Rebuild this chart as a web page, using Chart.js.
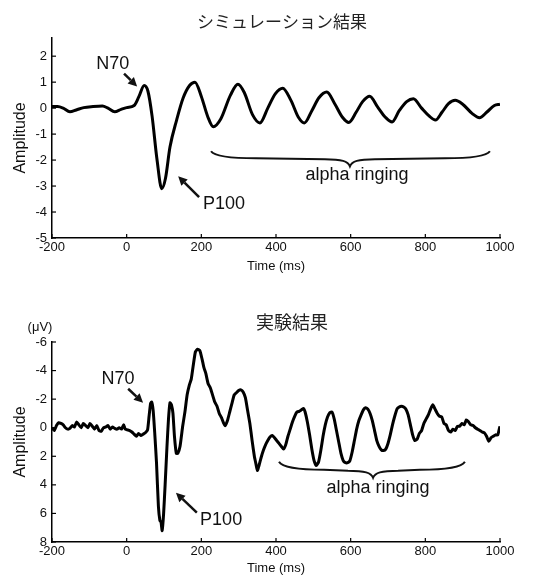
<!DOCTYPE html>
<html>
<head>
<meta charset="utf-8">
<script src="https://cdn.jsdelivr.net/npm/chart.js@4"></script>
<style>
  html, body { margin: 0; padding: 0; background: #fff; }
  #wrap { position: relative; width: 533px; height: 577px; }
  canvas { position: absolute; left: 0; }
  #top { top: 0; }
  #bottom { top: 290px; }
</style>
</head>
<body>
<div id="wrap">
  <canvas id="top" width="533" height="290"></canvas>
  <canvas id="bottom" width="533" height="287"></canvas>
</div>
<script>
// ---------- Data ----------
const xTicks = [-200, 0, 200, 400, 600, 800, 1000];
const simTicks = [-5, -4, -3, -2, -1, 0, 1, 2];
const expTicks = [-6, -4, -2, 0, 2, 4, 6, 8];

// simulation (top)
const simTime = [-200, -185, -170, -152, -135, -115, -90, -65, -50, -32, -15, 0, 20, 33, 47, 57, 68, 81, 94, 104,
  116, 134, 151, 169, 183, 200, 217, 232, 252, 278, 298, 315, 337, 357, 378, 398, 418, 440, 460, 476,
  496, 515, 536, 558, 578, 595, 615, 632, 651, 672, 693, 711, 730, 750, 768, 790, 810, 827, 845, 862,
  880, 900, 925, 945, 965, 985, 1000];
const simAmp = [0.06, 0.06, 0.0, -0.14, -0.07, 0.02, 0.06, 0.08, 0.0, -0.14, -0.05, 0.02, 0.1, 0.45, 0.87, 0.65, -0.3, -1.95, -3.1, -2.7,
  -1.5, -0.45, 0.38, 0.88, 1.0, 0.45, -0.32, -0.72, -0.42, 0.5, 0.92, 0.6, -0.25, -0.57, 0.0, 0.55, 0.77, 0.3, -0.35, -0.57,
  -0.1, 0.4, 0.62, 0.15, -0.35, -0.55, -0.15, 0.25, 0.46, 0.05, -0.35, -0.53, -0.1, 0.25, 0.36, 0.0, -0.3, -0.46, -0.15, 0.17,
  0.3, 0.15, -0.2, -0.37, -0.15, 0.1, 0.15];

// experiment (bottom), y axis reversed
const expTime = [-200, -194, -188, -182, -176, -170, -164, -158, -152, -146, -140, -134, -128, -122, -116, -110, -104, -98, -92, -86,
  -80, -74, -68, -62, -56, -50, -44, -38, -32, -26, -20, -14, -8, -4, 2, 8, 14, 20, 26, 32,
  38, 44, 50, 56, 60, 64, 67, 71, 75, 80, 85, 89, 92, 95, 99, 103, 108, 112, 116, 120,
  124, 128, 133, 137, 143, 150, 156, 162, 168, 173, 178, 184, 190, 196, 202, 207, 212, 218, 224, 230,
  236, 242, 248, 254, 260, 264, 270, 276, 282, 288, 294, 300, 306, 312, 318, 324, 330, 336, 342, 346,
  350, 355, 360, 366, 372, 378, 384, 390, 396, 402, 408, 414, 420, 426, 432, 438, 444, 450, 456, 462,
  468, 474, 478, 484, 490, 496, 502, 508, 514, 520, 526, 532, 538, 544, 550, 556, 562, 568, 574, 580,
  586, 592, 598, 604, 610, 616, 622, 628, 634, 640, 646, 652, 658, 664, 670, 676, 682, 688, 694, 700,
  706, 712, 718, 724, 730, 736, 742, 748, 754, 760, 766, 772, 778, 784, 790, 796, 802, 808, 814, 820,
  826, 832, 838, 844, 850, 856, 862, 868, 874, 880, 886, 892, 898, 904, 910, 916, 922, 928, 934, 940,
  946, 952, 958, 964, 970, 976, 982, 988, 994, 998, 1000];
const expAmp = [0.0, 0.2, -0.15, -0.35, -0.3, -0.2, 0.0, 0.1, 0.05, -0.15, -0.05, -0.4, -0.2, 0.0, -0.3, -0.15, 0.0, -0.3, -0.1, 0.1,
  -0.15, 0.2, 0.25, 0.0, -0.05, -0.15, 0.1, -0.05, 0.05, 0.1, 0.0, 0.1, -0.2, 0.1, 0.15, 0.2, 0.3, 0.45, 0.6, 0.4,
  0.55, 0.45, 0.35, 0.15, -0.8, -1.7, -1.8, -1.2, 0.3, 2.5, 5.5, 6.5, 6.6, 7.2, 6.0, 4.0, 1.3, -0.6, -1.75, -1.6,
  -1.0, 0.6, 1.8, 1.8, 1.3, -0.1, -1.1, -2.3, -3.0, -3.4, -4.3, -5.3, -5.5, -5.4, -4.8, -4.2, -3.8, -3.1, -2.8, -2.3,
  -1.8, -1.5, -1.0, -0.7, -0.3, -0.15, -0.5, -1.1, -1.7, -2.3, -2.45, -2.6, -2.65, -2.5, -2.1, -1.2, -0.3, 0.9, 2.0, 2.5,
  3.0, 2.6, 2.1, 1.6, 1.2, 0.9, 0.65, 0.55, 0.7, 0.9, 1.1, 1.3, 1.5, 1.2, 0.6, 0.1, -0.4, -0.8, -1.1, -1.15,
  -1.25, -1.35, -1.1, -0.4, 0.5, 1.5, 2.3, 2.65, 2.4, 1.6, 0.6, -0.2, -0.75, -1.05, -1.1, -0.6, 0.2, 1.0, 1.8, 2.3,
  2.45, 2.45, 2.3, 1.7, 0.9, 0.1, -0.5, -0.9, -1.25, -1.4, -1.3, -1.0, -0.5, 0.2, 0.9, 1.3, 1.55, 1.6, 1.5, 1.1,
  0.5, -0.2, -0.8, -1.3, -1.45, -1.5, -1.45, -1.3, -0.9, -0.2, 0.5, 0.9, 0.8, 0.4, 0.2, -0.3, -0.6, -0.9, -1.3, -1.6,
  -1.3, -1.0, -0.8, -0.75, -0.3, -0.2, 0.2, 0.3, 0.1, 0.2, -0.1, -0.1, -0.3, -0.2, -0.55, -0.4, -0.2, -0.15, 0.0, 0.1,
  0.2, 0.3, 0.35, 0.6, 0.95, 0.7, 0.6, 0.5, 0.5, 0.1, -0.1];

const FONT = '"Liberation Sans", Arial, sans-serif';
const CJK = '"Noto Sans CJK JP", "Noto Sans CJK SC", sans-serif';

// ---------- Helpers ----------
function arrow(ctx, x1, y1, x2, y2) {
    const a = Math.atan2(y2 - y1, x2 - x1);
    const L = 9, W = 4.5;
    const bx = x2 - L * Math.cos(a), by = y2 - L * Math.sin(a);
    ctx.beginPath();
    ctx.moveTo(x1, y1);
    ctx.lineTo(bx, by);
    ctx.stroke();
    ctx.beginPath();
    ctx.moveTo(x2, y2);
    ctx.lineTo(bx + W * Math.sin(a), by - W * Math.cos(a));
    ctx.lineTo(bx - W * Math.sin(a), by + W * Math.cos(a));
    ctx.closePath();
    ctx.fill();
}

function brace(ctx, x1, x2, xc, yEnd, yMid, yTip) {
    ctx.beginPath();
    ctx.moveTo(x1, yEnd);
    ctx.bezierCurveTo(x1 + 4, yMid - 1, x1 + 25, yMid, x1 + 45, yMid);
    ctx.lineTo(xc - 25, yMid + 1);
    ctx.bezierCurveTo(xc - 8, yMid + 1, xc - 2, yMid + 3, xc, yTip);
    ctx.bezierCurveTo(xc + 2, yMid + 3, xc + 8, yMid + 1, xc + 25, yMid + 1);
    ctx.lineTo(x2 - 45, yMid);
    ctx.bezierCurveTo(x2 - 25, yMid, x2 - 4, yMid - 1, x2, yEnd);
    ctx.stroke();
}

// ---------- Annotation plugin ----------
const notesPlugin = {
    id: 'notes',
    afterDraw(chart, args, o) {
        const { ctx, scales: { x, y } } = chart;
        const px = t => x.getPixelForValue(t);
        const py = v => y.getPixelForValue(v);
        ctx.save();

        // inward tick marks
        ctx.strokeStyle = '#000';
        ctx.lineWidth = 1.2;
        x.ticks.forEach(tk => {
            const X = px(tk.value);
            ctx.beginPath(); ctx.moveTo(X, x.top); ctx.lineTo(X, x.top - 4); ctx.stroke();
        });
        y.ticks.forEach(tk => {
            const Y = py(tk.value);
            ctx.beginPath(); ctx.moveTo(y.right, Y); ctx.lineTo(y.right + 4, Y); ctx.stroke();
        });

        // title
        ctx.fillStyle = '#222';
        ctx.textAlign = 'center';
        ctx.textBaseline = 'middle';
        ctx.font = o.titleSize + 'px ' + CJK;
        ctx.fillText(o.title, o.titleX, o.titleY);

        if (o.unit) {
            ctx.fillStyle = '#111';
            ctx.font = '13px ' + FONT;
            ctx.fillText(o.unit, 40, 37);
        }

        // labels
        ctx.fillStyle = '#111';
        ctx.textBaseline = 'alphabetic';
        ctx.font = '18px ' + FONT;
        o.labels.forEach(l => ctx.fillText(l.text, px(l.t), py(l.v)));

        // arrows
        ctx.strokeStyle = '#111';
        ctx.lineWidth = 2.5;
        o.arrows.forEach(a => arrow(ctx, px(a[0]), py(a[1]), px(a[2]), py(a[3])));

        // brace
        const b = o.brace;
        ctx.lineWidth = 2;
        brace(ctx, px(b.t1), px(b.t2), px(b.tc), py(b.vEnd), py(b.vMid), py(b.vTip));
        ctx.restore();
    }
};

// ---------- Chart factory ----------
function makeChart(id, times, amps, yMin, yMax, yTickVals, reverse, pad, xh, tension, notes) {
    const pts = times.map((t, i) => ({ x: t, y: amps[i] }));
    return new Chart(document.getElementById(id).getContext('2d'), {
        type: 'line',
        data: {
            datasets: [{
                data: pts,
                borderColor: '#000',
                borderWidth: 3,
                pointRadius: 0,
                fill: false,
                tension: tension,
                cubicInterpolationMode: tension ? 'default' : 'monotone'
            }]
        },
        options: {
            responsive: false,
            animation: false,
            devicePixelRatio: 1,
            layout: { padding: pad },
            plugins: { legend: { display: false }, tooltip: { enabled: false }, notes: notes },
            scales: {
                x: {
                    type: 'linear', min: -200, max: 1000,
                    afterBuildTicks: s => { s.ticks = xTicks.map(v => ({ value: v })); },
                    afterFit: s => { s.height = xh; },
                    grid: { display: false, drawTicks: false },
                    border: { display: true, color: '#000', width: 1.5 },
                    ticks: { color: '#111', font: { family: FONT, size: 13 }, padding: 2, maxRotation: 0, autoSkip: false,
                             callback: v => String(v) },
                    title: { display: true, text: 'Time (ms)', color: '#111', font: { family: FONT, size: 13 }, padding: 0 }
                },
                y: {
                    type: 'linear', min: yMin, max: yMax, reverse: reverse,
                    afterBuildTicks: s => { s.ticks = yTickVals.map(v => ({ value: v })); },
                    afterFit: s => { s.width = 52; },
                    grid: { display: false, drawTicks: false },
                    border: { display: true, color: '#000', width: 1.5 },
                    ticks: { color: '#111', font: { family: FONT, size: 13 }, padding: 5, autoSkip: false,
                             callback: v => String(v) },
                    title: { display: true, text: 'Amplitude', color: '#111', font: { family: FONT, size: 16 },
                             padding: { top: 11, bottom: 0 } }
                }
            }
        },
        plugins: [notesPlugin]
    });
}

makeChart('top', simTime, simAmp, -5, 2.7, simTicks, false,
    { left: 0, right: 33, top: 38, bottom: 16 }, 36, 0,
    {
        title: 'シミュレーション結果', titleSize: 17, titleX: 282, titleY: 22,
        labels: [{ text: 'N70', t: -37, v: 1.52 }, { text: 'P100', t: 261, v: -3.88 }, { text: 'alpha ringing', t: 617, v: -2.76 }],
        arrows: [[-7, 1.33, 28, 0.83], [194, -3.43, 138, -2.62]],
        brace: { t1: 226, t2: 973, tc: 598, vEnd: -1.66, vMid: -1.93, vTip: -2.24 }
    });

makeChart('bottom', expTime, expAmp, -6, 8, expTicks, true,
    { left: 0, right: 33, top: 52, bottom: 1 }, 34, 0.15,
    {
        title: '実験結果', titleSize: 18, titleX: 292, titleY: 32, unit: '(μV)',
        labels: [{ text: 'N70', t: -23, v: -3.08 }, { text: 'P100', t: 253, v: 6.79 }, { text: 'alpha ringing', t: 673, v: 4.55 }],
        arrows: [[4, -2.73, 44, -1.75], [188, 5.95, 132, 4.55]],
        brace: { t1: 408, t2: 906, tc: 660, vEnd: 2.38, vMid: 2.94, vTip: 3.5 }
    });
</script>
</body>
</html>
